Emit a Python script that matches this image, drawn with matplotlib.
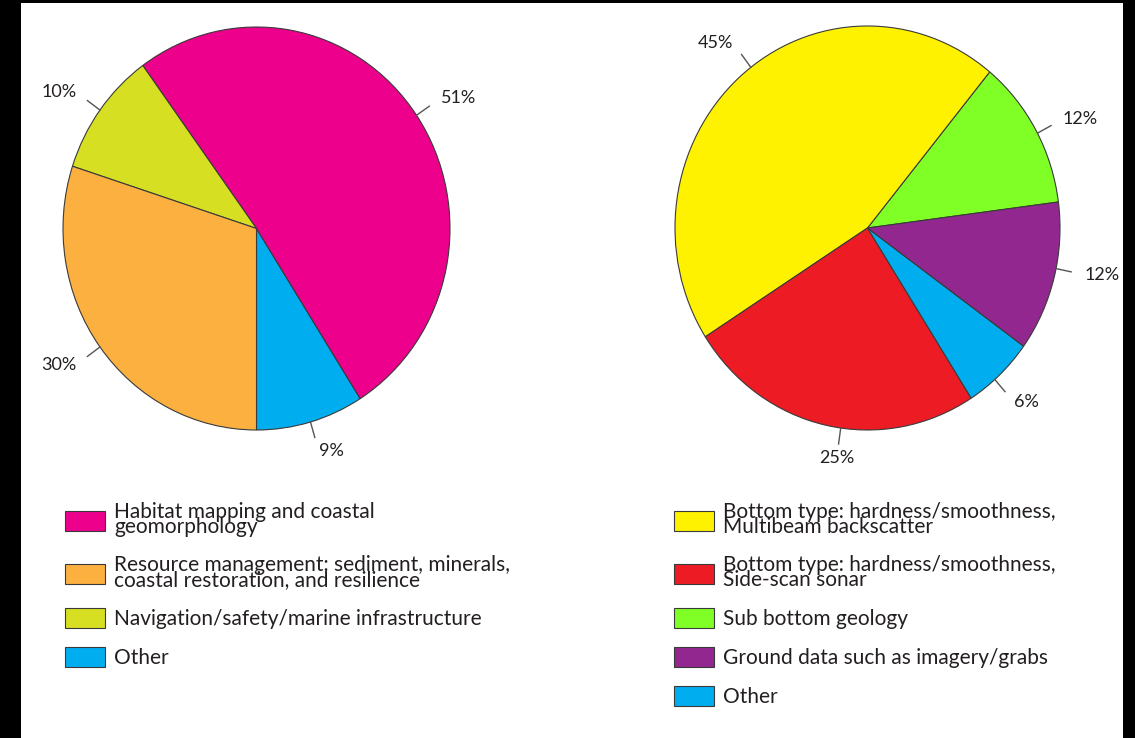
import numpy as np
import matplotlib.pyplot as plt
from matplotlib.patches import Rectangle

W, H = 1135, 738

# left pie: what the data is used for
use_labels = ['Habitat mapping and coastal\ngeomorphology',
              'Resource management: sediment, minerals,\ncoastal restoration, and resilience',
              'Navigation/safety/marine infrastructure',
              'Other']
use_values = [51, 30, 10, 9]
use_colors = ['#EC008C', '#FBB040', '#D7DF23', '#00AEEF']
use_order = [3, 0, 2, 1]  # counter-clockwise drawing order
use_nudge = [0, 0, 0, 0]  # label angle tweaks (deg), in drawing order

# right pie: data types
type_labels = ['Bottom type: hardness/smoothness,\nMultibeam backscatter',
               'Bottom type: hardness/smoothness,\nSide-scan sonar',
               'Sub bottom geology',
               'Ground data such as imagery/grabs',
               'Other']
type_values = [45, 25, 12, 12, 6]
type_colors = ['#FFF200', '#ED1C24', '#80FF26', '#92278F', '#00AEEF']
type_order = [2, 0, 1, 4, 3]
type_nudge = [-1, -4.3, 4.4, -2, 2.6]

plt.rcParams['font.family'] = ['Lato', 'DejaVu Sans']

fig = plt.figure(figsize=(W / 100, H / 100), dpi=100)
fig.patch.set_facecolor('black')
fig.add_artist(Rectangle((21 / W, 0), (1123 - 21) / W, (H - 3) / H,
                         transform=fig.transFigure, facecolor='white',
                         edgecolor='none', zorder=-10))


def pie_axes(cx, cy, rx, ry):
    return fig.add_axes([(cx - rx) / W, (H - cy - ry) / H, 2 * rx / W, 2 * ry / H])


def draw_pie(ax, values, colors, order, start, nudge):
    vals = [values[i] for i in order]
    cols = [colors[i] for i in order]
    wedges, _ = ax.pie(vals, colors=cols, startangle=start, counterclock=True,
                       radius=1.0, wedgeprops=dict(edgecolor='#3a3a3a', linewidth=0.8))
    ax.set_aspect('auto')
    ax.set_xlim(-1, 1)
    ax.set_ylim(-1, 1)
    ax.axis('off')
    for w, v, dn in zip(wedges, vals, nudge):
        ang = np.deg2rad((w.theta1 + w.theta2) / 2 + dn)
        c, s = np.cos(ang), np.sin(ang)
        ax.plot([c * 1.0, c * 1.08], [s * 1.0, s * 1.08], color='#555555',
                lw=1, clip_on=False)
        ha = 'left' if c > 0.25 else ('right' if c < -0.25 else 'center')
        ax.text(c * 1.15, s * 1.15, f'{v}%', ha=ha, va='center', fontsize=13,
                color='#231F20')
    # map wedges back to original order for the legend
    handles = [None] * len(values)
    for k, i in enumerate(order):
        handles[i] = wedges[k]
    return handles


ax1 = pie_axes(256.5, 228.5, 193.5, 201.5)
h1 = draw_pie(ax1, use_values, use_colors, use_order, 270, use_nudge)

ax2 = pie_axes(867.5, 228, 192.5, 202)
h2 = draw_pie(ax2, type_values, type_colors, type_order, 7.4, type_nudge)

leg_kw = dict(loc='upper left', frameon=False, fontsize=15, handlelength=1.92,
              handleheight=1.1, handletextpad=0.45, borderpad=0, borderaxespad=0,
              labelspacing=0.86, bbox_transform=fig.transFigure)
leg1 = fig.legend(h1, use_labels, bbox_to_anchor=(65 / W, 1 - 502 / H), **leg_kw)
leg2 = fig.legend(h2, type_labels, bbox_to_anchor=(674 / W, 1 - 502 / H), **leg_kw)
for leg in (leg1, leg2):
    for t in leg.get_texts():
        t.set_linespacing(0.7)
        t.set_color('#231F20')

fig.savefig('out.png', dpi=100, facecolor=fig.get_facecolor())
